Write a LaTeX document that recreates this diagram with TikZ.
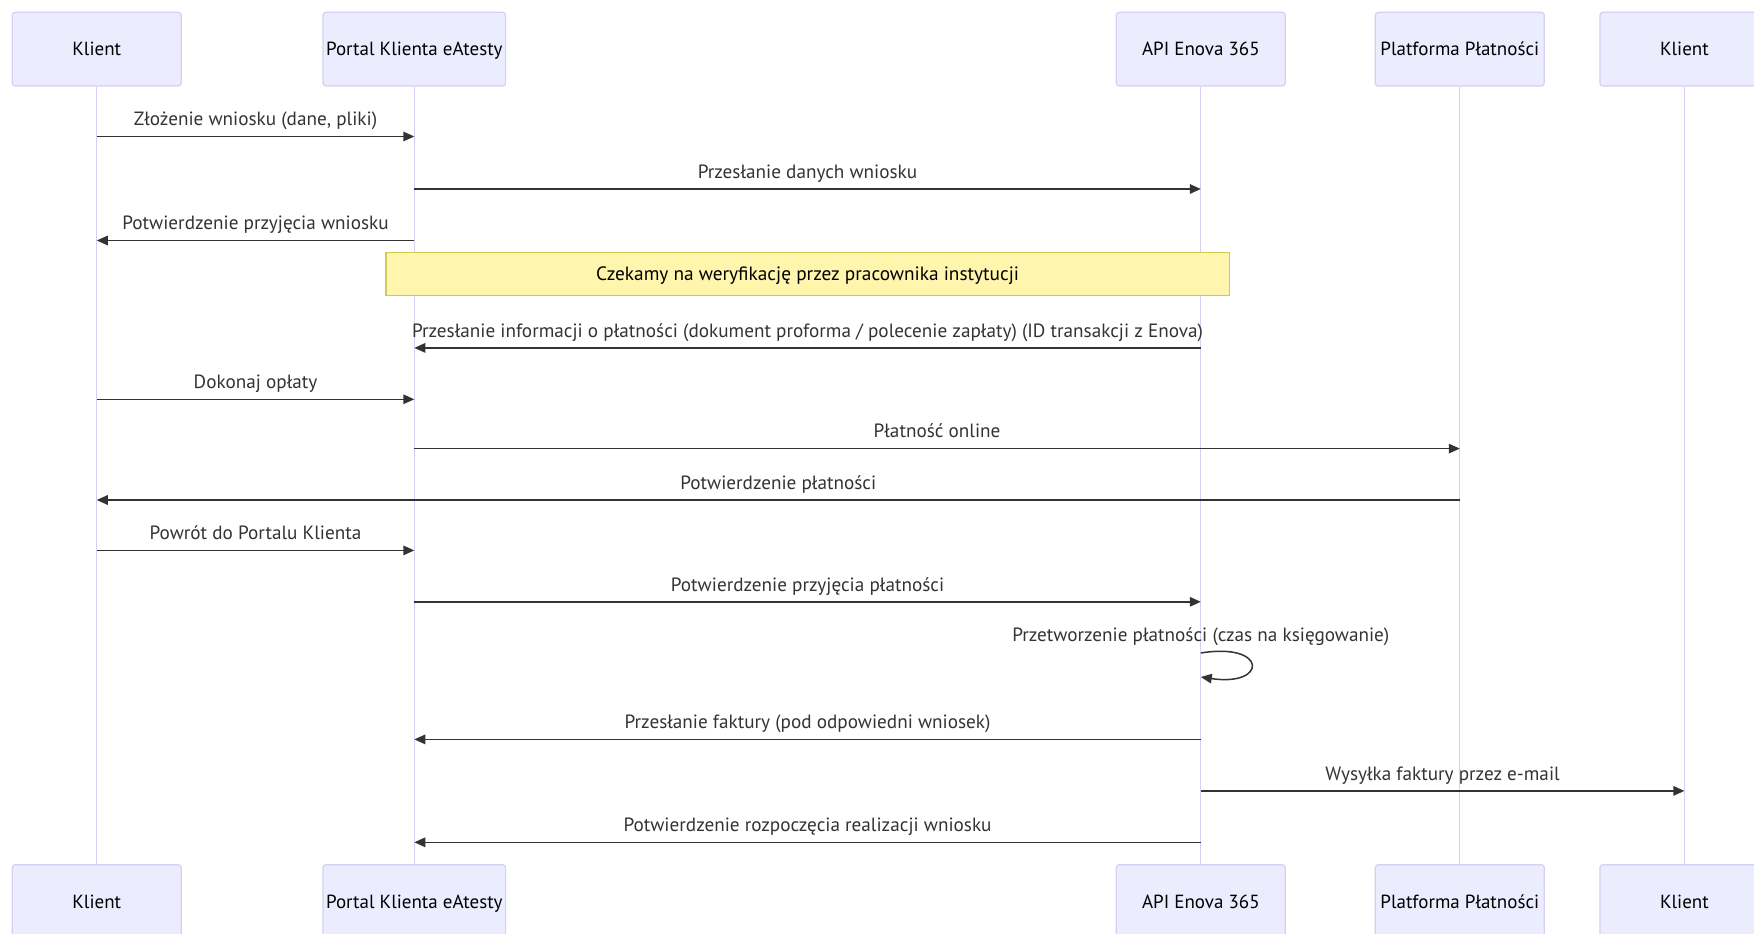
\documentclass[tikz,border=0pt]{standalone}
\usepackage{fontspec}
\setmainfont{PT Sans}
\usetikzlibrary{arrows.meta}
\definecolor{actorfill}{HTML}{ECECFF}
\definecolor{actorline}{HTML}{D7CEF4}
\definecolor{notefill}{HTML}{FFF5AD}
\definecolor{noteline}{HTML}{CCCC55}
\definecolor{msgline}{HTML}{333333}
\tikzset{
  actor/.style={draw=actorline,fill=actorfill,rounded corners=3pt,line width=1.2pt,
    minimum width=169pt,minimum height=73.7pt,inner sep=0pt,
    text height=1.3em,text depth=0em,font=\fontsize{19}{22}\selectfont},
  lifeline/.style={draw=actorline,line width=1.3pt},
  msg/.style={draw=msgline,line width=1.5pt,-{Triangle[length=11pt,width=9.5pt]}},
  msgtext/.style={text=msgline,font=\fontsize{19.2}{22}\selectfont,
    text height=1.13em,text depth=0.07em,yshift=16pt},
  note/.style={draw=noteline,fill=notefill,line width=1.2pt,inner sep=0pt,
    minimum width=843.4pt,minimum height=42.5pt,
    text height=1.25em,text depth=0em,font=\fontsize{19.3}{22}\selectfont}
}
\begin{document}
\begin{tikzpicture}[x=1pt,y=-1pt]
        \useasboundingbox (0,0) rectangle (1754,934);
        \node [actor] (klient) at (96.75,49.15) {Klient};
        \node [actor,minimum width=182.6pt] (portal) at (414.3,49.15) {Portal Klienta eAtesty};
        \node [actor] (api) at (1200.8,49.15) {API Enova 365};
        \node [actor] (platforma) at (1459.8,49.15) {Platforma Płatności};
        \node [actor] (klientmail) at (1684.4,49.15) {Klient};
        \node [actor] (klientB) at (96.75,901.5) {Klient};
        \node [actor,minimum width=182.6pt] (portalB) at (414.3,901.5) {Portal Klienta eAtesty};
        \node [actor] (apiB) at (1200.8,901.5) {API Enova 365};
        \node [actor] (platformaB) at (1459.8,901.5) {Platforma Płatności};
        \node [actor] (klientmailB) at (1684.4,901.5) {Klient};
        \draw [lifeline] (klient) -- (klientB);
        \draw [lifeline] (portal) -- (portalB);
        \draw [lifeline] (api) -- (apiB);
        \draw [lifeline] (platforma) -- (platformaB);
        \draw [lifeline] (klientmail) -- (klientmailB);
        \draw [msg] (klient |- 0,136.5) -- (portal |- 0,136.5) node [midway,msgtext] {Złożenie wniosku (dane, pliki)};
        \draw [msg] (portal |- 0,189) -- (api |- 0,189) node [midway,msgtext] {Przesłanie danych wniosku};
        \draw [msg] (portal |- 0,240.5) -- (klient |- 0,240.5) node [midway,msgtext] {Potwierdzenie przyjęcia wniosku};
        \node [note] (weryfikacja) at (807.7,274) {Czekamy na weryfikację przez pracownika instytucji};
        \draw [msg] (api |- 0,347.9) -- (portal |- 0,347.9) node [midway,msgtext] {Przesłanie informacji o płatności (dokument proforma / polecenie zapłaty) (ID transakcji z Enova)};
        \draw [msg] (klient |- 0,399.3) -- (portal |- 0,399.3) node [midway,msgtext] {Dokonaj opłaty};
        \draw [msg] (portal |- 0,448.6) -- (platforma |- 0,448.6) node [midway,msgtext] {Płatność online};
        \draw [msg] (platforma |- 0,500) -- (klient |- 0,500) node [midway,msgtext] {Potwierdzenie płatności};
        \draw [msg] (klient |- 0,550.4) -- (portal |- 0,550.4) node [midway,msgtext] {Powrót do Portalu Klienta};
        \draw [msg] (portal |- 0,601.8) -- (api |- 0,601.8) node [midway,msgtext] {Potwierdzenie przyjęcia płatności};
        \node [msgtext,yshift=-16pt] (przetworzenie) at (api |- 0,636.5) {Przetworzenie płatności (czas na księgowanie)};
        \draw [msg] (api |- 0,653) .. controls +(67,-11) and +(67,10) .. (api |- 0,677);
        \draw [msg] (api |- 0,739.4) -- (portal |- 0,739.4) node [midway,msgtext] {Przesłanie faktury (pod odpowiedni wniosek)};
        \draw [msg] (api |- 0,790.9) -- (klientmail |- 0,790.9) node [midway,msgtext] {Wysyłka faktury przez e-mail};
        \draw [msg] (api |- 0,842.3) -- (portal |- 0,842.3) node [midway,msgtext] {Potwierdzenie rozpoczęcia realizacji wniosku};
\end{tikzpicture}
\end{document}
